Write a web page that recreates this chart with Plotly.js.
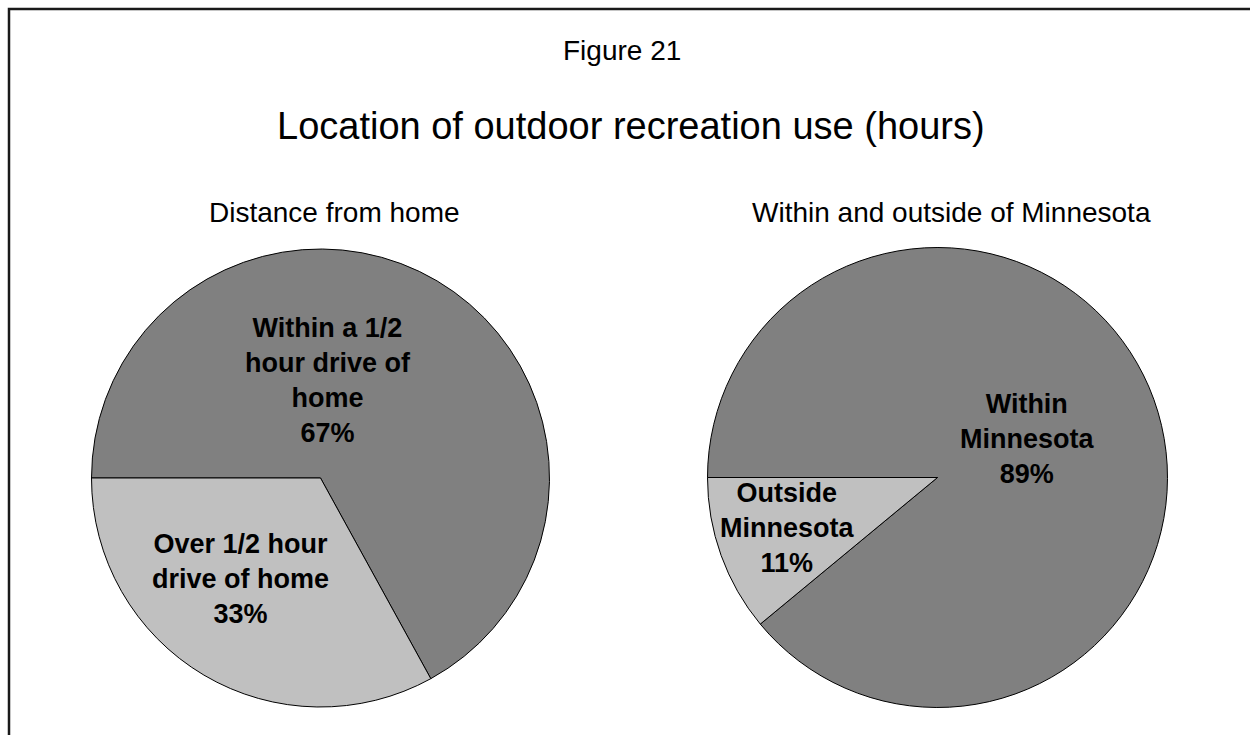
<!DOCTYPE html>
<html>
<head>
<meta charset="utf-8">
<script src="https://cdn.plot.ly/plotly-3.0.1.min.js"></script>
<style>html,body{margin:0;padding:0;background:#fff;}#chart{width:1250px;height:735px;}</style>
</head>
<body>
<div id="chart"></div>
<script>
// Data
var distanceLabels = ['Within a 1/2<br>hour drive of<br>home', 'Over 1/2 hour<br>drive of home'];
var distanceValues = [67, 33];
var stateLabels = ['Within<br>Minnesota', 'Outside<br>Minnesota'];
var stateValues = [89, 11];
var sliceColors = ['#808080', '#c0c0c0'];
var chartTitle = 'Location of outdoor recreation use (hours)';
var figureLabel = 'Figure 21';
var subTitles = ['Distance from home', 'Within and outside of Minnesota'];

var W = 1250, H = 735;
var FONT = 'Arial, "Liberation Sans", sans-serif';
function px(x) { return x / W; }
function py(y) { return 1 - y / H; }

function pieTrace(labels, values, cx, cy, r) {
  return {
    type: 'pie',
    labels: labels,
    values: values,
    sort: false,
    direction: 'clockwise',
    rotation: 270,
    marker: { colors: sliceColors, line: { color: '#000000', width: 1 } },
    textinfo: 'none',
    hoverinfo: 'label+percent',
    showlegend: false,
    domain: { x: [px(cx - r), px(cx + r)], y: [py(cy + r), py(cy - r)] }
  };
}

var data = [
  pieTrace(distanceLabels, distanceValues, 320.5, 478, 229),
  pieTrace(stateLabels, stateValues, 937.5, 477.5, 230)
];

function pct(vals, i) {
  var s = vals.reduce(function (a, b) { return a + b; }, 0);
  return Math.round(vals[i] / s * 100) + '%';
}

var labelFont = { family: FONT, size: 27, color: '#000000', weight: 'bold' };
function sliceLabel(text, x, y) {
  return { xref: 'paper', yref: 'paper', x: px(x), y: py(y), xanchor: 'center', yanchor: 'middle',
           text: '<b>' + text + '</b>', showarrow: false, font: labelFont, align: 'center' };
}

var annotations = [
  { xref: 'paper', yref: 'paper', x: px(622), y: py(51), xanchor: 'center', yanchor: 'middle',
    text: figureLabel, showarrow: false, font: { family: FONT, size: 28, color: '#000' } },
  { xref: 'paper', yref: 'paper', x: px(631), y: py(126), xanchor: 'center', yanchor: 'middle',
    text: chartTitle, showarrow: false, font: { family: FONT, size: 38, color: '#000' } },
  { xref: 'paper', yref: 'paper', x: px(334), y: py(212), xanchor: 'center', yanchor: 'middle',
    text: subTitles[0], showarrow: false, font: { family: FONT, size: 28, color: '#000' } },
  { xref: 'paper', yref: 'paper', x: px(951), y: py(212), xanchor: 'center', yanchor: 'middle',
    text: subTitles[1], showarrow: false, font: { family: FONT, size: 28, color: '#000' } },
  sliceLabel(distanceLabels[0] + '<br>' + pct(distanceValues, 0), 328, 380),
  sliceLabel(distanceLabels[1] + '<br>' + pct(distanceValues, 1), 240, 579),
  sliceLabel(stateLabels[0] + '<br>' + pct(stateValues, 0), 1027, 439),
  sliceLabel(stateLabels[1] + '<br>' + pct(stateValues, 1), 787, 528)
];

var layout = {
  width: W, height: H,
  margin: { l: 0, r: 0, t: 0, b: 0 },
  paper_bgcolor: '#ffffff',
  plot_bgcolor: '#ffffff',
  showlegend: false,
  annotations: annotations,
  shapes: [
    { type: 'rect', xref: 'paper', yref: 'paper', x0: px(9), x1: 1.2, y0: -0.2, y1: py(9),
      line: { color: '#1a1a1a', width: 2.5 }, fillcolor: 'rgba(0,0,0,0)', layer: 'above' }
  ]
};

Plotly.newPlot('chart', data, layout, { displayModeBar: false, staticPlot: true });
</script>
</body>
</html>
